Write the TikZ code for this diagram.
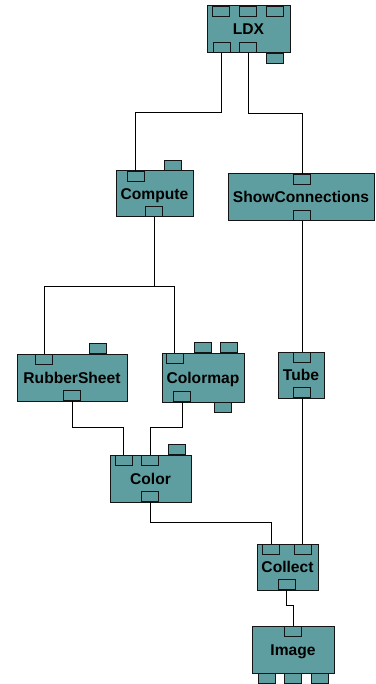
\documentclass[tikz,border=0pt]{standalone}
\usepackage{fontspec}
\setmainfont{Liberation Sans}
\definecolor{modfill}{HTML}{5F9EA0}
\definecolor{edge}{HTML}{141414}
% port tab: name, x, y
\newcommand\mkport[3]{\node[porttab] (#1) at (#2,#3) {};}
\begin{document}
\begin{tikzpicture}[x=1pt,y=-1pt,
  module/.style={draw=edge, fill=modfill, line width=1pt, inner sep=0pt,
    font=\fontsize{15.6}{18}\selectfont\bfseries, text height=11pt, text depth=0pt},
  porttab/.style={draw=edge, fill=modfill, line width=1pt, inner sep=0pt,
    minimum width=17pt, minimum height=10.5pt},
  wire/.style={draw=black, line width=0.8pt}]
\useasboundingbox (0,0) rectangle (375,684);

% modules
\node[module, minimum width=83pt, minimum height=47pt]  (ldx)     at (248.5,29.5) {LDX};
\node[module, minimum width=77pt, minimum height=46pt]  (compute) at (154.5,194)  {Compute};
\node[module, minimum width=146pt, minimum height=47pt] (showc)   at (301,197.5)  {ShowConnections};
\node[module, minimum width=110pt, minimum height=47pt] (rubber)  at (72,377.5)   {RubberSheet};
\node[module, minimum width=82pt, minimum height=49pt]  (cmap)    at (203,377.5)  {Colormap};
\node[module, minimum width=46pt, minimum height=46pt]  (tube)    at (301,375)    {Tube};
\node[module, minimum width=81pt, minimum height=47pt]  (color)   at (150.5,478.5) {Color};
\node[module, minimum width=61pt, minimum height=46pt]  (collect) at (287.5,567)  {Collect};
\node[module, minimum width=82pt, minimum height=47pt]  (image)   at (293,649.5)  {Image};

% port tabs
\mkport{ldxi1}{221}{11.5}
\mkport{ldxi2}{247.5}{11.5}
\mkport{ldxi3}{274.5}{11.5}
\mkport{ldxo1}{221.5}{47.5}
\mkport{ldxo2}{248}{47.5}
\mkport{ldxo3}{274.5}{58.5}

\mkport{compi1}{135.5}{176.5}
\mkport{compi2}{173}{165.5}
\mkport{compo1}{154}{211.5}

\mkport{showi1}{302}{179.5}
\mkport{showo1}{302}{215.5}

\mkport{rubi1}{44}{359.5}
\mkport{rubi2}{98}{348.5}
\mkport{rubo1}{72}{395.5}

\mkport{cmapi1}{174.5}{358.5}
\mkport{cmapi2}{202.5}{347.5}
\mkport{cmapi3}{229}{347.5}
\mkport{cmapo1}{182}{396.5}
\mkport{cmapo2}{222.5}{407.5}

\mkport{tubei1}{302}{357.5}
\mkport{tubeo1}{302}{392.5}

\mkport{coli1}{123.5}{460.5}
\mkport{coli2}{150}{460.5}
\mkport{coli3}{177}{449.5}
\mkport{colo1}{150}{496.5}

\mkport{colli1}{271}{549.5}
\mkport{colli2}{303}{549.5}
\mkport{collo1}{286.5}{584.5}

\mkport{imgi1}{293}{631.5}
\mkport{imgo1}{266.5}{678.5}
\mkport{imgo2}{293}{678.5}
\mkport{imgo3}{320}{678.5}

% bend heights of the wires
\coordinate (b1) at (0,112.5);
\coordinate (b2) at (0,113.5);
\coordinate (b3) at (0,286);
\coordinate (b4) at (0,427);
\coordinate (b5) at (0,522);
\coordinate (b6) at (0,605);

% wires
\draw[wire] (ldxo1.south) |- (compi1.north |- b1) -- (compi1.north);
\draw[wire] (ldxo2.south) |- (showi1.north |- b2) -- (showi1.north);
\draw[wire] (compo1.south) -- (compo1.south |- b3);
\draw[wire] (rubi1.north) |- (cmapi1.north |- b3) -- (cmapi1.north);
\draw[wire] (showo1.south) -- (tubei1.north);
\draw[wire] (rubo1.south) |- (coli1.north |- b4) -- (coli1.north);
\draw[wire] (cmapo1.south) |- (coli2.north |- b4) -- (coli2.north);
\draw[wire] (colo1.south) |- (colli1.north |- b5) -- (colli1.north);
\draw[wire] (tubeo1.south) -- (tubeo1.south |- colli2.north);
\draw[wire] (collo1.south) |- (imgi1.north |- b6) -- (imgi1.north);
\end{tikzpicture}
\end{document}
